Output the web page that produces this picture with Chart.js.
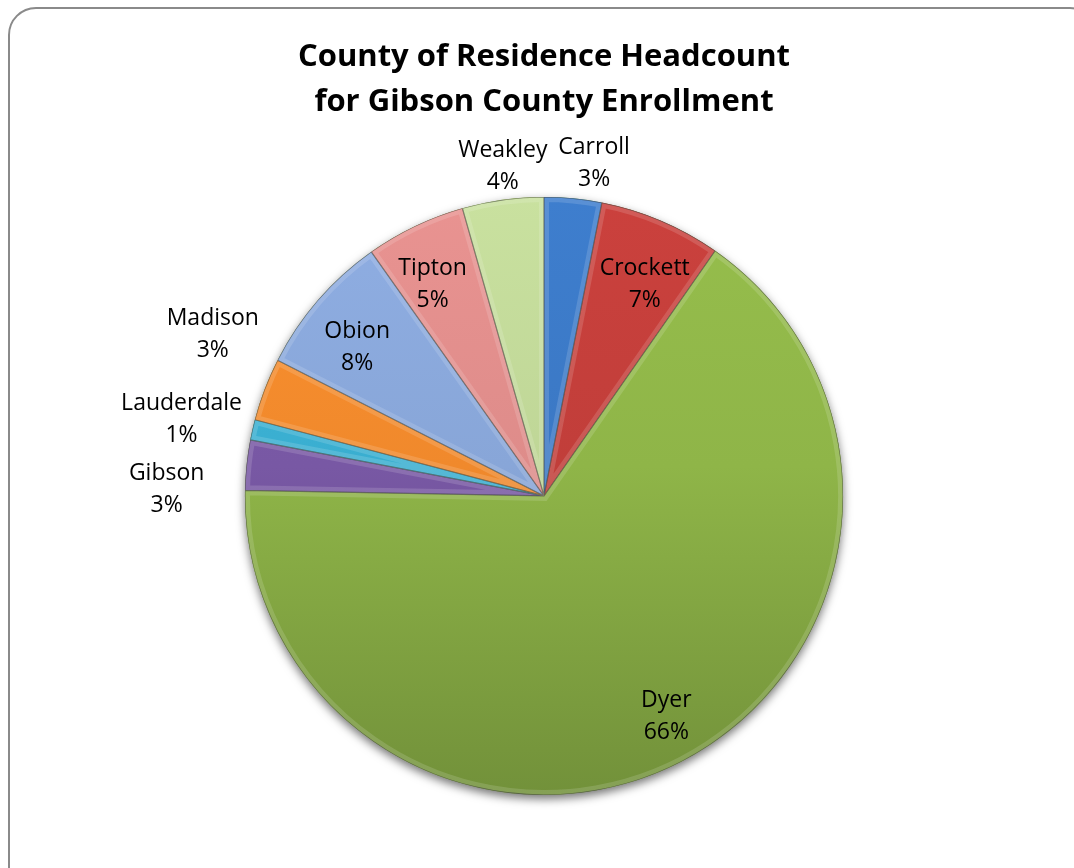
<!DOCTYPE html>
<html>
<head>
<meta charset="utf-8">
<script src="https://cdn.jsdelivr.net/npm/chart.js@4.4.1/dist/chart.umd.min.js"></script>
<style>
  html, body { margin: 0; padding: 0; background: #fff; overflow: hidden; }
  #frame {
    position: absolute; left: 8px; top: 7px; width: 1090px; height: 890px;
    border: 2px solid #8a8a8a; border-radius: 28px; box-sizing: border-box;
  }
  #canvas { position: absolute; left: 0; top: 0; }
</style>
</head>
<body>
<div id="frame"></div>
<canvas id="canvas" width="1074" height="868"></canvas>
<script>
// counties, clockwise from 12 o'clock
const counties = ["Carroll", "Crockett", "Dyer", "Gibson", "Lauderdale", "Madison", "Obion", "Tipton", "Weakley"];
// headcount
const headcount = [31, 66, 656, 27, 11, 34, 77, 54, 44];
const sliceColors = ["#3b78c4", "#c13e3a", "#8fb548", "#7858a4", "#3aaed0", "#f0892c", "#88a6d8", "#de8c8a", "#bfd697"];

// label placement: radius factor and small angle nudge (deg)
const labelRadius = [1.123, 0.784, 0.844, 1.262, 1.239, 1.232, 0.798, 0.80, 1.112];
const labelNudge = [3.0, 2.4, -2, -5, -0.8, 5.1, -2.4, -2.2, 0.8];

const total = headcount.reduce((a, b) => a + b, 0);

function shade(hex, f) {
  const n = parseInt(hex.slice(1), 16);
  const c = [(n >> 16) & 255, (n >> 8) & 255, n & 255].map(v => Math.max(0, Math.min(255, Math.round(v * f))));
  return "rgb(" + c.join(",") + ")";
}

function sliceFill(context) {
  const chart = context.chart;
  const area = chart.chartArea;
  const base = sliceColors[context.dataIndex];
  if (!area) return base;
  const cy = (area.top + area.bottom) / 2;
  const r = Math.min(area.right - area.left, area.bottom - area.top) / 2;
  const g = chart.ctx.createLinearGradient(0, cy - r, 0, cy + r);
  g.addColorStop(0, shade(base, 1.05));
  g.addColorStop(0.45, base);
  g.addColorStop(1, shade(base, 0.8));
  return g;
}

const pieShadow = {
  id: "pieShadow",
  beforeDatasetsDraw(chart) {
    const arc = chart.getDatasetMeta(0).data[0];
    if (!arc) return;
    const ctx = chart.ctx;
    ctx.save();
    ctx.shadowColor = "rgba(0,0,0,0.55)";
    ctx.shadowBlur = 10;
    ctx.shadowOffsetY = 4;
    ctx.fillStyle = "#7a9a3a";
    ctx.beginPath();
    ctx.arc(arc.x, arc.y, arc.outerRadius, 0, Math.PI * 2);
    ctx.fill();
    ctx.restore();
  }
};

const bevel = {
  id: "bevel",
  afterDatasetsDraw(chart) {
    const ctx = chart.ctx;
    chart.getDatasetMeta(0).data.forEach(arc => {
      ctx.save();
      ctx.beginPath();
      ctx.moveTo(arc.x, arc.y);
      ctx.arc(arc.x, arc.y, arc.outerRadius, arc.startAngle, arc.endAngle);
      ctx.closePath();
      ctx.clip();
      ctx.lineWidth = 10;
      ctx.strokeStyle = "rgba(255,255,255,0.14)";
      ctx.stroke();
      ctx.lineWidth = 1.2;
      ctx.strokeStyle = "rgba(60,60,60,0.6)";
      ctx.stroke();
      ctx.restore();
    });
  }
};

const sliceLabels = {
  id: "sliceLabels",
  afterDraw(chart) {
    const ctx = chart.ctx;
    ctx.save();
    ctx.font = "23px 'Open Sans'";
    ctx.fillStyle = "#000";
    ctx.textAlign = "center";
    ctx.textBaseline = "middle";
    chart.getDatasetMeta(0).data.forEach((arc, i) => {
      const mid = (arc.startAngle + arc.endAngle) / 2 + labelNudge[i] * Math.PI / 180;
      const rr = arc.outerRadius * labelRadius[i];
      const px = arc.x + Math.cos(mid) * rr;
      const py = arc.y + Math.sin(mid) * rr;
      const pct = Math.round(headcount[i] / total * 100) + "%";
      ctx.fillText(counties[i], px, py - 16);
      ctx.fillText(pct, px, py + 16);
    });
    ctx.restore();
  }
};

new Chart(document.getElementById("canvas").getContext("2d"), {
  type: "pie",
  data: {
    labels: counties,
    datasets: [{
      data: headcount,
      backgroundColor: sliceFill,
      borderWidth: 0
    }]
  },
  options: {
    responsive: false,
    animation: false,
    layout: { padding: { top: 10, bottom: 73, left: 20, right: 6 } },
    plugins: {
      legend: { display: false },
      tooltip: { enabled: false },
      title: {
        display: true,
        text: ["County of Residence Headcount", "for Gibson County Enrollment"],
        color: "#000",
        font: { family: "'Open Sans'", size: 31, weight: "bold", lineHeight: 1.45 },
        padding: { top: 25, bottom: 72 }
      }
    }
  },
  plugins: [pieShadow, bevel, sliceLabels]
});
</script>
</body>
</html>
